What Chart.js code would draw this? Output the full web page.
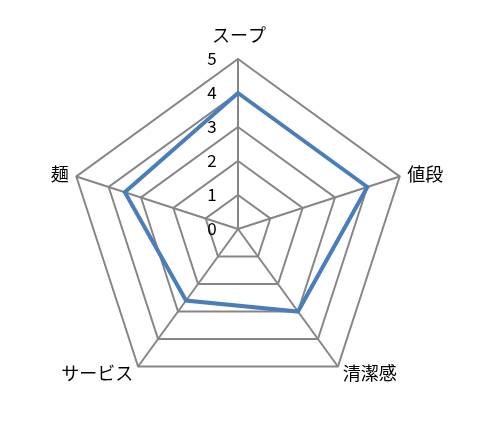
<!DOCTYPE html>
<html>
<head>
<meta charset="utf-8">
<script src="https://cdn.jsdelivr.net/npm/chart.js@4/dist/chart.umd.min.js"></script>
<style>
  body { margin: 0; background: #fff; }
</style>
</head>
<body>
<canvas id="chart-area" width="477" height="431"></canvas>
<script>
const categories = ['スープ', '値段', '清潔感', 'サービス', '麺'];
const valores = [4, 4, 3, 2.6, 3.5];
const tickValues = [0, 1, 2, 3, 4, 5];

const fonte = '"Noto Sans CJK JP", "Noto Sans", sans-serif';

// rótulos desenhados a mão, usando as posições da escala
const rotulosPlugin = {
    id: 'rotulos',
    afterDraw(chart) {
        const scale = chart.scales.r;
        const ctx = chart.ctx;
        ctx.save();
        ctx.fillStyle = '#000';

        // ticks à esquerda do eixo vertical
        ctx.font = '17px ' + fonte;
        ctx.textAlign = 'center';
        ctx.textBaseline = 'middle';
        tickValues.forEach(v => {
            const y = scale.yCenter - scale.getDistanceFromCenterForValue(v);
            ctx.fillText(String(v), scale.xCenter - 26, y);
        });

        // nomes das categorias
        ctx.font = '18px ' + fonte;
        categories.forEach((nome, i) => {
            const p = scale.getPointPosition(i, scale.drawingArea + 8);
            const dx = p.x - scale.xCenter;
            if (Math.abs(dx) < 1) {
                ctx.textAlign = 'center';
                ctx.textBaseline = 'middle';
                ctx.fillText(nome, p.x + 1, p.y - 16);
            } else {
                ctx.textAlign = dx > 0 ? 'left' : 'right';
                ctx.textBaseline = 'middle';
                ctx.fillText(nome, p.x, p.y);
            }
        });
        ctx.restore();
    }
};

function gerarGrafico() {
    let config = {
        type: 'radar',
        data: {
            labels: categories,
            datasets: [{
                data: valores,
                borderColor: '#4a7ebb',
                borderWidth: 4,
                backgroundColor: 'rgba(0,0,0,0)',
                fill: false,
                pointRadius: 0,
                tension: 0
            }]
        },
        options: {
            responsive: false,
            animation: false,
            layout: {
                padding: { left: 68, right: 69, top: 59, bottom: 32 }
            },
            plugins: {
                legend: { display: false },
                tooltip: { enabled: false }
            },
            scales: {
                r: {
                    min: 0,
                    max: 5,
                    ticks: { display: false, stepSize: 1 },
                    pointLabels: { display: false },
                    grid: { color: '#868686', lineWidth: 2 },
                    angleLines: { color: '#868686', lineWidth: 2 }
                }
            }
        },
        plugins: [rotulosPlugin]
    };

    let ctx = document.getElementById('chart-area').getContext('2d');
    window.myRadar = new Chart(ctx, config);
}

gerarGrafico();
</script>
</body>
</html>
